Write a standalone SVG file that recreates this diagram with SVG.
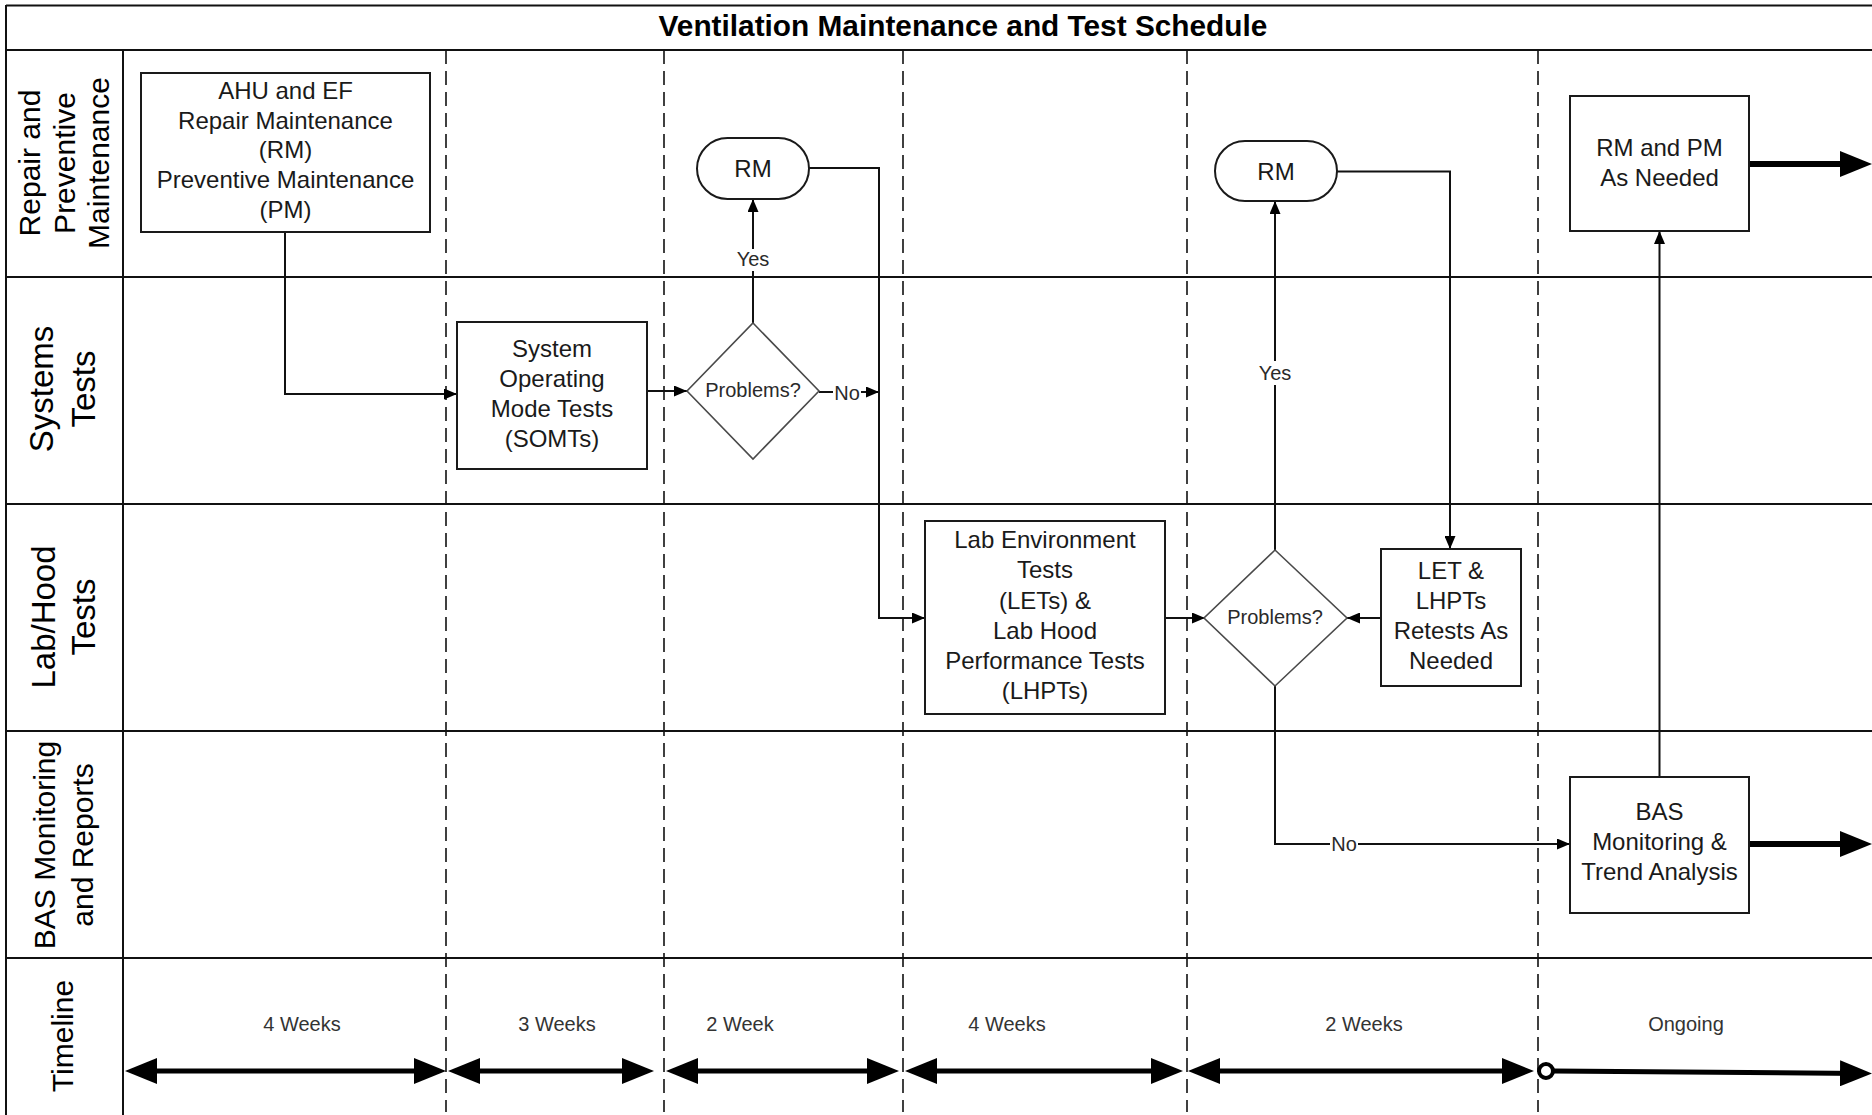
<svg xmlns="http://www.w3.org/2000/svg" width="1872" height="1115" viewBox="0 0 1872 1115">
<defs>
<style>
.frame{fill:none;stroke:#111;stroke-width:2}
.dash{fill:none;stroke:#111;stroke-width:1.6;stroke-dasharray:14 7}
.box{fill:#fff;stroke:#1a1a1a;stroke-width:2}
.dec{fill:#fff;stroke:#4a4a4a;stroke-width:1.6}
.t{font-family:"Liberation Sans",Arial,sans-serif;fill:#1a1a1a}
.title{font-size:29.8px;font-weight:bold;text-anchor:middle;fill:#000}
.node{font-size:24px;text-anchor:middle}
.lane{font-size:30px;text-anchor:middle;fill:#000}
.lane2{font-size:33px;text-anchor:middle;fill:#000}
.lbl{font-size:20px;text-anchor:middle;fill:#2a2a2a}
.wk{font-size:20px;text-anchor:middle;fill:#333}
.conn{fill:none;stroke:#111;stroke-width:2}
.thick{fill:none;stroke:#000;stroke-width:6}
.tl{fill:none;stroke:#000;stroke-width:5}
.gap{fill:#fff}
</style>
<marker id="arrow" viewBox="0 0 13 11" refX="13" refY="5.5" markerWidth="13" markerHeight="11" orient="auto" markerUnits="userSpaceOnUse"><path d="M0,0L13,5.5L0,11z" fill="#000"/></marker>
<marker id="head" viewBox="0 0 32 26" refX="22" refY="13" markerWidth="32" markerHeight="26" orient="auto-start-reverse" markerUnits="userSpaceOnUse"><path d="M0,0L32,13L0,26z" fill="#000"/></marker>
</defs>
<rect x="0" y="0" width="1872" height="1115" fill="#fff"/>

<!-- swimlane frame -->
<g id="frame">
  <path class="frame" d="M6,5.5H1872M6,5V1115M6,50H1872M6,277H1872M6,504H1872M6,731H1872M6,958H1872M123,50V1115"/>
  <path class="dash" d="M446,50V1112M664,50V1112M903,50V1112M1187,50V1112M1538,50V1112"/>
  <text class="t title" x="963" y="36">Ventilation Maintenance and Test Schedule</text>
</g>

<!-- lane headers -->
<g id="lane-maintenance" class="t lane">
  <text transform="translate(40,163) rotate(-90)">Repair and</text>
  <text transform="translate(74.5,163) rotate(-90)">Preventive</text>
  <text transform="translate(109,163) rotate(-90)">Maintenance</text>
</g>
<g id="lane-systems" class="t lane2">
  <text transform="translate(53,389) rotate(-90)">Systems</text>
  <text transform="translate(95,389) rotate(-90)">Tests</text>
</g>
<g id="lane-labhood" class="t lane2">
  <text transform="translate(55,617) rotate(-90)">Lab/Hood</text>
  <text transform="translate(95,617) rotate(-90)">Tests</text>
</g>
<g id="lane-bas" class="t lane">
  <text transform="translate(55,845) rotate(-90)">BAS Monitoring</text>
  <text transform="translate(93,845) rotate(-90)">and Reports</text>
</g>
<g id="lane-timeline" class="t lane">
  <text transform="translate(73,1036) rotate(-90)">Timeline</text>
</g>

<!-- connectors -->
<g id="connectors">
  <path class="conn" d="M285,232V394H457" marker-end="url(#arrow)"/>
  <path class="conn" d="M636,391H687" marker-end="url(#arrow)"/>
  <path class="conn" d="M753,323V199" marker-end="url(#arrow)"/>
  <path class="conn" d="M819,392H879" marker-end="url(#arrow)"/>
  <path class="conn" d="M809,168H879V618H925" marker-end="url(#arrow)"/>
  <path class="conn" d="M1165,618H1205" marker-end="url(#arrow)"/>
  <path class="conn" d="M1275,550V201" marker-end="url(#arrow)"/>
  <path class="conn" d="M1337,171.5H1450V549" marker-end="url(#arrow)"/>
  <path class="conn" d="M1381,618H1347" marker-end="url(#arrow)"/>
  <path class="conn" d="M1275,686V844H1570" marker-end="url(#arrow)"/>
  <path class="conn" d="M1659.5,777V231" marker-end="url(#arrow)"/>
  <path class="thick" d="M1749,164H1862" marker-end="url(#head)"/>
  <path class="thick" d="M1749,844H1862" marker-end="url(#head)"/>
  <rect class="gap" x="738" y="249" width="30" height="22"/>
  <text class="t lbl" x="753" y="266">Yes</text>
  <rect class="gap" x="1260" y="361" width="30" height="24"/>
  <text class="t lbl" x="1275" y="380">Yes</text>
  <rect class="gap" x="833" y="383" width="28" height="19"/>
  <text class="t lbl" x="847" y="400">No</text>
  <rect class="gap" x="1330" y="835" width="28" height="19"/>
  <text class="t lbl" x="1344" y="851">No</text>
</g>

<!-- process steps -->
<g id="ahu-ef-maintenance">
  <rect class="box" x="141" y="73" width="289" height="159"/>
  <text class="t node" x="285.5" y="99">AHU and EF</text>
  <text class="t node" x="285.5" y="128.5">Repair Maintenance</text>
  <text class="t node" x="285.5" y="158">(RM)</text>
  <text class="t node" x="285.5" y="188">Preventive Maintenance</text>
  <text class="t node" x="285.5" y="217.5">(PM)</text>
</g>
<g id="rm-1">
  <rect class="box" x="697" y="138" width="112" height="61" rx="30.5"/>
  <text class="t node" x="753" y="177">RM</text>
</g>
<g id="rm-2">
  <rect class="box" x="1215" y="141" width="122" height="60" rx="30"/>
  <text class="t node" x="1276" y="179.5">RM</text>
</g>
<g id="rm-pm-as-needed">
  <rect class="box" x="1570" y="96" width="179" height="135"/>
  <text class="t node" x="1659.5" y="156">RM and PM</text>
  <text class="t node" x="1659.5" y="186">As Needed</text>
</g>
<g id="somt">
  <rect class="box" x="457" y="322" width="190" height="147"/>
  <text class="t node" x="552" y="357">System</text>
  <text class="t node" x="552" y="387">Operating</text>
  <text class="t node" x="552" y="416.5">Mode Tests</text>
  <text class="t node" x="552" y="446.5">(SOMTs)</text>
</g>
<g id="problems-1">
  <polygon class="dec" points="753,323 819,391 753,459 687,391"/>
  <text class="t lbl" x="753" y="397">Problems?</text>
</g>
<g id="let-lhpt">
  <rect class="box" x="925" y="521" width="240" height="193"/>
  <text class="t node" x="1045" y="548">Lab Environment</text>
  <text class="t node" x="1045" y="578">Tests</text>
  <text class="t node" x="1045" y="608.5">(LETs) &amp;</text>
  <text class="t node" x="1045" y="638.5">Lab Hood</text>
  <text class="t node" x="1045" y="669">Performance Tests</text>
  <text class="t node" x="1045" y="699">(LHPTs)</text>
</g>
<g id="problems-2">
  <polygon class="dec" points="1275,550 1347,618 1275,686 1204,618"/>
  <text class="t lbl" x="1275" y="624">Problems?</text>
</g>
<g id="retests">
  <rect class="box" x="1381" y="549" width="140" height="137"/>
  <text class="t node" x="1451" y="579">LET &amp;</text>
  <text class="t node" x="1451" y="609">LHPTs</text>
  <text class="t node" x="1451" y="639">Retests As</text>
  <text class="t node" x="1451" y="669">Needed</text>
</g>
<g id="bas-monitoring">
  <rect class="box" x="1570" y="777" width="179" height="136"/>
  <text class="t node" x="1659.5" y="820">BAS</text>
  <text class="t node" x="1659.5" y="850">Monitoring &amp;</text>
  <text class="t node" x="1659.5" y="880">Trend Analysis</text>
</g>

<!-- timeline -->
<g id="timeline">
  <path class="tl" d="M135,1071H436" marker-start="url(#head)" marker-end="url(#head)"/>
  <path class="tl" d="M458,1071H644" marker-start="url(#head)" marker-end="url(#head)"/>
  <path class="tl" d="M676,1071H889" marker-start="url(#head)" marker-end="url(#head)"/>
  <path class="tl" d="M915,1071H1173" marker-start="url(#head)" marker-end="url(#head)"/>
  <path class="tl" d="M1198,1071H1524" marker-start="url(#head)" marker-end="url(#head)"/>
  <path class="tl" d="M1553,1071L1862,1073.5" marker-end="url(#head)"/>
  <circle cx="1546" cy="1071" r="7" fill="#fff" stroke="#000" stroke-width="4"/>
  <text class="t wk" x="302" y="1031">4 Weeks</text>
  <text class="t wk" x="557" y="1031">3 Weeks</text>
  <text class="t wk" x="740" y="1031">2 Week</text>
  <text class="t wk" x="1007" y="1031">4 Weeks</text>
  <text class="t wk" x="1364" y="1031">2 Weeks</text>
  <text class="t wk" x="1686" y="1031">Ongoing</text>
</g>
</svg>
